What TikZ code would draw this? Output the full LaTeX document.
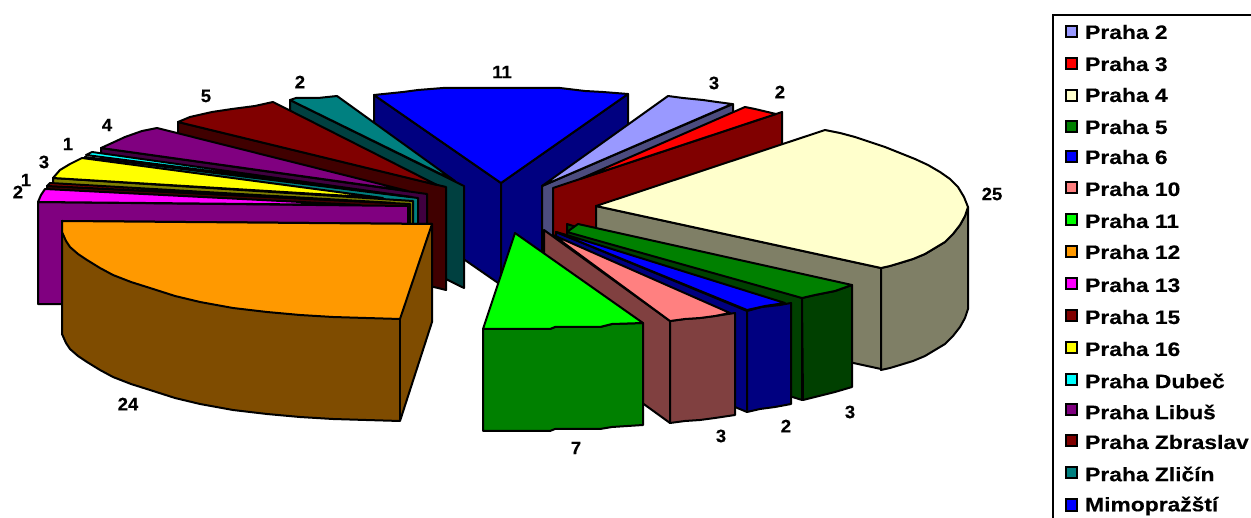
\documentclass[tikz,border=0pt]{standalone}
\usepackage{fontspec}
\setmainfont{Liberation Sans}[Ligatures=TeX]
\newfontfamily\legfont{Liberation Sans}[FakeStretch=1.17,BoldFeatures={FakeStretch=1.17,FakeBold=0.3}]
\newfontfamily\numfont{Liberation Sans}[FakeStretch=1.03,BoldFeatures={FakeStretch=1.03,FakeBold=0.2}]
\definecolor{cTwo}{HTML}{9999FF}\definecolor{cTwoW}{HTML}{4C4C7F}
\definecolor{cThree}{HTML}{FF0000}\definecolor{cMaroon}{HTML}{800000}
\definecolor{cFour}{HTML}{FFFFCC}\definecolor{cFourW}{HTML}{7F7F66}
\definecolor{cGreen}{HTML}{008000}\definecolor{cGreenW}{HTML}{004000}
\definecolor{cBlue}{HTML}{0000FF}\definecolor{cBlueW}{HTML}{000080}
\definecolor{cPink}{HTML}{FF8080}\definecolor{cPinkW}{HTML}{804040}
\definecolor{cLime}{HTML}{00FF00}
\definecolor{cOrange}{HTML}{FF9900}\definecolor{cOrangeW}{HTML}{7F4C00}
\definecolor{cMag}{HTML}{FF00FF}\definecolor{cPurple}{HTML}{800080}\definecolor{cPurpleW}{HTML}{400040}
\definecolor{cDark}{HTML}{400000}
\definecolor{cYellow}{HTML}{FFFF00}\definecolor{cOlive}{HTML}{808000}
\definecolor{cCyan}{HTML}{00FFFF}\definecolor{cTeal}{HTML}{008080}\definecolor{cTealW}{HTML}{004040}
\tikzset{
  face/.style={draw=black,line width=2pt,line join=round,fill=#1},
  val/.style={font=\numfont\bfseries\fontsize{18}{18}\selectfont,inner sep=0pt,text=black},
  legtext/.style={font=\legfont\bfseries\fontsize{19.5}{19.5}\selectfont,inner sep=0pt,anchor=west,text=black},
  swatch/.style={draw=black,line width=2pt,fill=#1,minimum width=11pt,minimum height=11pt,inner sep=0pt,outer sep=0pt},
}
\begin{document}
\begin{tikzpicture}[x=1pt,y=-1pt]
\useasboundingbox (0,0) rectangle (1251,518);
% Mimoprazsti
\path[face=cBlueW] (374,95) -- (501,183) -- (501,285) -- (374,197) -- cycle;
\path[face=cBlueW] (501,183) -- (628,94) -- (628,196) -- (501,285) -- cycle;
\path[face=cBlue] (374,95) -- (403,92) -- (418,90) -- (443,88) -- (470,88) -- (560,88) -- (585,91) -- (603,92) -- (628,94) -- (501,183) -- cycle;
% Zlicin
\path[face=cTealW] (290,100) -- (464,186) -- (464,288) -- (290,202) -- cycle;
\path[face=cTeal] (290,100) -- (296,98) -- (318,98) -- (337,96) -- (455,181) -- cycle;
% Zbraslav
\path[face=cDark] (178,122) -- (446,187) -- (446,290) -- (178,224) -- cycle;
\path[face=cMaroon] (178,122) -- (190,117) -- (212,112) -- (232,109) -- (255,106) -- (273,102) -- (437,185) -- cycle;
% Libus
\path[face=cPurpleW] (101,148) -- (427,194) -- (427,296) -- (101,250) -- cycle;
\path[face=cPurple] (101,148) -- (112,143) -- (125,137) -- (142,131) -- (157,128) -- (408,191) -- cycle;
% Dubec
\path[face=cTeal] (85,157) -- (418,198) -- (418,300) -- (85,259) -- cycle;
\path[face=cCyan] (86,155) -- (92,152) -- (412,197) -- cycle;
% Praha 16
\path[face=cOlive] (53,178) -- (413,201) -- (413,303) -- (53,280) -- cycle;
\path[face=cYellow] (53,178) -- (60,170) -- (70,164) -- (82,158) -- (383,198) -- cycle;
% Praha 15
\path[face=cDark] (47,186) -- (410,204) -- (410,306) -- (47,288) -- cycle;
\path[face=cMaroon] (47,186) -- (50,183) -- (395,203) -- cycle;
% Praha 13
\path[face=cPurple] (38,202) -- (408,206) -- (408,308) -- (38,304) -- cycle;
\path[face=cMag] (38,202) -- (41,195) -- (45,189) -- (360,205) -- cycle;
% Praha 12
\path[face=cOrangeW] (62,221) -- (432,224) -- (432,322) -- (400,421) -- (366,420) -- (333,419) -- (300,417) -- (267,414) -- (233,410) -- (200,404) -- (175,398) -- (150,390) -- (131,384) -- (113,377) -- (100,370) -- (87,362) -- (78,356) -- (70,349) -- (66,343) -- (62,334) -- cycle;
\path[face=cOrange] (62,221) -- (432,224) -- (400,319) -- (366,318) -- (333,317) -- (300,315) -- (267,312) -- (233,308) -- (200,302) -- (175,296) -- (150,288) -- (131,282) -- (113,275) -- (100,268) -- (87,260) -- (78,254) -- (70,247) -- (66,241) -- (62,232) -- cycle;
\draw[line width=2pt] (400,319) -- (400,421);
% Praha 2
\path[face=cTwoW] (542,186) -- (733,104) -- (733,206) -- (542,288) -- cycle;
\path[face=cTwo] (542,186) -- (668,96) -- (683,98) -- (703,100) -- (717,102) -- (732,104) -- cycle;
% Praha 3
\path[face=cMaroon] (553,188) -- (782,112) -- (782,214) -- (553,290) -- cycle;
\path[face=cThree] (580,179) -- (745,107) -- (755,109) -- (776,114) -- cycle;
% Praha 4
\path[face=cFourW] (596,206) -- (881,268) -- (881,369) -- (596,307) -- cycle;
\path[face=cFourW] (881,268) -- (890,266) -- (900,263) -- (913,259) -- (925,254) -- (935,248) -- (945,242) -- (953,234) -- (960,225) -- (965,216) -- (968,207) -- (968,309) -- (965,318) -- (960,327) -- (953,336) -- (945,344) -- (935,350) -- (925,356) -- (913,361) -- (900,365) -- (890,368) -- (881,370) -- cycle;
\path[face=cFour] (596,206) -- (825,130) -- (840,133) -- (855,137) -- (870,142) -- (885,147) -- (900,153) -- (915,159) -- (928,165) -- (940,172) -- (950,179) -- (958,187) -- (964,197) -- (968,207) -- (965,216) -- (960,225) -- (953,234) -- (945,242) -- (935,248) -- (925,254) -- (913,259) -- (900,263) -- (890,266) -- (881,268) -- cycle;
% Praha 5
\path[face=cGreenW] (567,224) -- (802,298) -- (802,400) -- (567,326) -- cycle;
\path[face=cGreenW] (802,298) -- (815,295) -- (835,291) -- (852,285) -- (852,387) -- (835,392) -- (815,397) -- (803,400) -- cycle;
\path[face=cGreen] (578,224) -- (852,285) -- (835,291) -- (815,295) -- (802,298) -- (567,232) -- cycle;
% Praha 6
\path[face=cBlueW] (556,232) -- (747,311) -- (747,412) -- (556,333) -- cycle;
\path[face=cBlueW] (747,311) -- (762,307) -- (780,305) -- (791,303) -- (791,404) -- (775,407) -- (760,409) -- (747,412) -- cycle;
\path[face=cBlue] (570,236) -- (785,303) -- (765,306) -- (747,310) -- (556,232) -- cycle;
% Praha 10
\path[face=cPinkW] (544,230) -- (670,321) -- (670,423) -- (544,332) -- cycle;
\path[face=cPinkW] (670,321) -- (685,319) -- (700,318) -- (715,316) -- (735,313) -- (735,415) -- (715,418) -- (700,420) -- (685,421) -- (670,423) -- cycle;
\path[face=cPink] (553,235) -- (730,313) -- (715,316) -- (700,318) -- (685,319) -- (670,321) -- cycle;
% Praha 11
\path[face=cGreen] (483,329) -- (550,329) -- (555,327) -- (600,327) -- (612,324) -- (643,323) -- (643,425) -- (612,427) -- (600,429) -- (555,429) -- (550,431) -- (483,431) -- cycle;
\path[face=cLime] (515,233) -- (643,323) -- (612,324) -- (600,327) -- (555,327) -- (550,329) -- (483,329) -- cycle;
% values
\node[val] (vMimo) at (502,72) {11};
\node[val] (vTwo) at (714,83) {3};
\node[val] (vThree) at (780,92) {2};
\node[val] (vFour) at (992,194) {25};
\node[val] (vFive) at (850,412) {3};
\node[val] (vSix) at (786,426) {2};
\node[val] (vTen) at (721,436) {3};
\node[val] (vEleven) at (576,448) {7};
\node[val] (vTwelve) at (128,404) {24};
\node[val] (vThirteen) at (18,192) {2};
\node[val] (vFifteen) at (26,180) {1};
\node[val] (vSixteen) at (44,162) {3};
\node[val] (vDubec) at (68,144) {1};
\node[val] (vLibus) at (107,125) {4};
\node[val] (vZbraslav) at (206,96) {5};
\node[val] (vZlicin) at (300,82) {2};
% legend
\draw[line width=2pt] (1258,15) -- (1053,15) -- (1053,525);
\node[swatch=cTwo] (s1) at (1071,32) {}; \node[legtext] (t1) at (1085,32) {Praha 2};
\node[swatch=cThree] (s2) at (1071,64) {}; \node[legtext] (t2) at (1085,64) {Praha 3};
\node[swatch=cFour] (s3) at (1071,96) {}; \node[legtext] (t3) at (1085,95) {Praha 4};
\node[swatch=cGreen] (s4) at (1071,127) {}; \node[legtext] (t4) at (1085,127) {Praha 5};
\node[swatch=cBlue] (s5) at (1071,157) {}; \node[legtext] (t5) at (1085,157) {Praha 6};
\node[swatch=cPink] (s6) at (1071,188) {}; \node[legtext] (t6) at (1085,189) {Praha 10};
\node[swatch=cLime] (s7) at (1071,220) {}; \node[legtext] (t7) at (1085,221) {Praha 11};
\node[swatch=cOrange] (s8) at (1071,252) {}; \node[legtext] (t8) at (1085,252) {Praha 12};
\node[swatch=cMag] (s9) at (1071,284) {}; \node[legtext] (t9) at (1085,285) {Praha 13};
\node[swatch=cMaroon] (s10) at (1071,316) {}; \node[legtext] (t10) at (1085,317) {Praha 15};
\node[swatch=cYellow] (s11) at (1071,348) {}; \node[legtext] (t11) at (1085,349) {Praha 16};
\node[swatch=cCyan] (s12) at (1071,380) {}; \node[legtext] (t12) at (1085,381) {Praha Dubeč};
\node[swatch=cPurple] (s13) at (1071,410) {}; \node[legtext] (t13) at (1085,412) {Praha Libuš};
\node[swatch=cMaroon] (s14) at (1071,441) {}; \node[legtext] (t14) at (1085,442) {Praha Zbraslav};
\node[swatch=cTeal] (s15) at (1071,473) {}; \node[legtext] (t15) at (1085,474) {Praha Zličín};
\node[swatch=cBlue] (s16) at (1071,505) {}; \node[legtext] (t16) at (1085,506) {Mimopražští};
\end{tikzpicture}
\end{document}
